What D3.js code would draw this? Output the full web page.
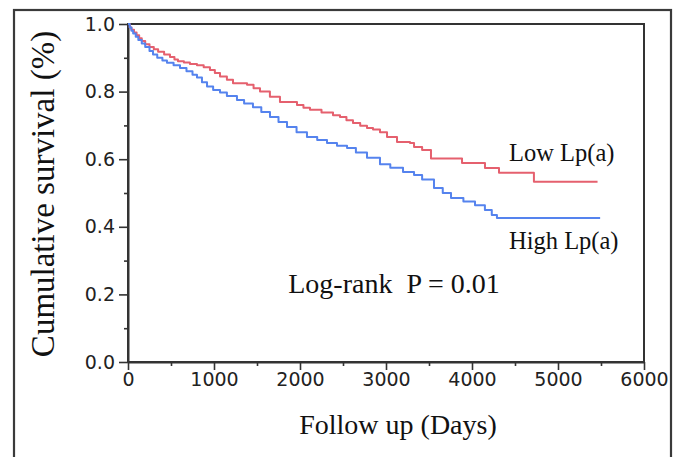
<!DOCTYPE html>
<html><head><meta charset="utf-8">
<script src="https://cdn.jsdelivr.net/npm/d3@7/dist/d3.min.js"></script>
<style>body{margin:0;background:#fff}svg{display:block}</style>
</head><body>
<script>
// ---- data ----
const lowDays = [0,20,40,70,100,130,160,200,250,300,350,420,488,540,581,650,720,802,880,953,1010,1070,1150,1221,1384,1460,1535,1650,1767,1965,2040,2116,2250,2384,2465,2540,2616,2700,2779,2849,2930,3012,3128,3279,3326,3420,3523,3884,4151,4314,4720,5460];
const lowSurv = [1.0,0.99,0.983,0.975,0.967,0.958,0.95,0.94,0.932,0.925,0.918,0.91,0.902,0.895,0.89,0.886,0.882,0.878,0.872,0.864,0.855,0.845,0.835,0.825,0.82,0.81,0.80,0.785,0.769,0.76,0.752,0.746,0.738,0.73,0.725,0.715,0.707,0.699,0.692,0.688,0.68,0.666,0.651,0.648,0.636,0.627,0.602,0.589,0.574,0.56,0.533,0.533];
const highDays = [0,20,40,60,90,120,160,200,250,291,340,400,453,530,605,680,750,802,860,919,990,1070,1150,1267,1350,1453,1550,1651,1750,1849,1960,2081,2200,2314,2430,2547,2650,2779,2930,3050,3198,3326,3420,3558,3660,3756,3900,4035,4150,4230,4290,5490];
const highSurv = [1.0,0.99,0.98,0.972,0.962,0.953,0.942,0.932,0.92,0.91,0.9,0.892,0.885,0.878,0.87,0.86,0.85,0.842,0.828,0.815,0.805,0.797,0.787,0.775,0.765,0.754,0.74,0.725,0.71,0.695,0.68,0.666,0.657,0.648,0.64,0.633,0.62,0.604,0.585,0.575,0.562,0.553,0.54,0.515,0.5,0.485,0.475,0.464,0.45,0.435,0.426,0.426];
const xTicks = [0,1000,2000,3000,4000,5000,6000];
const xMinor = [500,1500,2500,3500,4500,5500];
const yTicks = [0,0.2,0.4,0.6,0.8,1.0];
const yMinor = [0.1,0.3,0.5,0.7,0.9];
const seriesNames = ["Low Lp(a)","High Lp(a)"];
const seriesColors = ["#e5606e","#5583ee"];

const W=678,H=457;
const svg=d3.select("body").append("svg").attr("width",W).attr("height",H);
const x=d3.scaleLinear().domain([0,6000]).range([128,644]);
const y=d3.scaleLinear().domain([0,1]).range([362,24]);

// outer frame
svg.append("rect").attr("x",14).attr("y",10).attr("width",657).attr("height",470)
  .attr("fill","none").attr("stroke","#3a3a3a").attr("stroke-width",2.2);

// plot box
svg.append("rect").attr("x",x(0)).attr("y",y(1)).attr("width",x(6000)-x(0)).attr("height",y(0)-y(1))
  .attr("fill","none").attr("stroke","#333").attr("stroke-width",2);

const tickFont='"DejaVu Sans", Verdana, sans-serif';
function styleAxis(g){
  g.select(".domain").attr("stroke","#333").attr("stroke-width",2);
  g.selectAll(".tick line").attr("stroke","#333").attr("stroke-width",1.6);
  g.selectAll(".tick text").attr("fill","#222").style("font-family",tickFont).style("font-size","19px");
}
const gx=svg.append("g").attr("transform",`translate(0,${y(0)})`)
  .call(d3.axisBottom(x).tickValues(xTicks).tickFormat(d3.format("d")).tickSize(8).tickPadding(3).tickSizeOuter(0));
styleAxis(gx);
svg.append("g").attr("transform",`translate(0,${y(0)})`)
  .call(d3.axisBottom(x).tickValues(xMinor).tickFormat("").tickSize(4).tickSizeOuter(0))
  .call(g=>{g.select(".domain").remove();g.selectAll("line").attr("stroke","#333").attr("stroke-width",1.6);});
const gy=svg.append("g").attr("transform",`translate(${x(0)},0)`)
  .call(d3.axisLeft(y).tickValues(yTicks).tickFormat(d3.format(".1f")).tickSize(9).tickPadding(4).tickSizeOuter(0));
styleAxis(gy);
svg.append("g").attr("transform",`translate(${x(0)},0)`)
  .call(d3.axisLeft(y).tickValues(yMinor).tickFormat("").tickSize(4).tickSizeOuter(0))
  .call(g=>{g.select(".domain").remove();g.selectAll("line").attr("stroke","#333").attr("stroke-width",1.6);});

// curves
const line=d3.line().x(d=>x(d[0])).y(d=>y(d[1])).curve(d3.curveStepAfter);
const series=[d3.zip(lowDays,lowSurv), d3.zip(highDays,highSurv)];
series.forEach((s,i)=>{
  svg.append("path").datum(s).attr("d",line).attr("fill","none")
    .attr("stroke",seriesColors[i]).attr("stroke-width",2).attr("stroke-linejoin","round");
});

const serif='"Liberation Serif","Times New Roman",serif';
// labels
svg.append("text").attr("x",509).attr("y",161).text(seriesNames[0])
  .style("font-family",serif).style("font-size","24.5px").attr("fill","#111");
svg.append("text").attr("x",509).attr("y",249).text(seriesNames[1])
  .style("font-family",serif).style("font-size","24.5px").attr("fill","#111");
svg.append("text").attr("x",394).attr("y",293).attr("text-anchor","middle").text("Log-rank  P = 0.01")
  .style("white-space","pre").style("font-family",serif).style("font-size","28px").attr("fill","#111");

// axis titles
svg.append("text").attr("x",398).attr("y",434).attr("text-anchor","middle").text("Follow up (Days)")
  .style("font-family",serif).style("font-size","28px").attr("fill","#111");
svg.append("text").attr("transform","translate(54,194) rotate(-90)").attr("text-anchor","middle")
  .text("Cumulative survival (%)").style("font-family",serif).style("font-size","33px").attr("fill","#111");
</script>
</body></html>
